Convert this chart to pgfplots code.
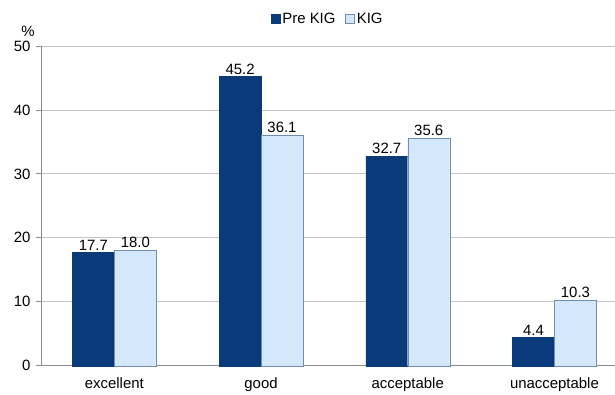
\documentclass[border=0pt]{standalone}
\usepackage{pgfplots}
\pgfplotsset{compat=1.18}
\usepackage{fontspec}
\setmainfont{Liberation Sans}

\definecolor{prekig}{HTML}{0B3A7A}
\definecolor{kig}{HTML}{D5E8FB}
\definecolor{kigedge}{HTML}{6F8DB0}
\definecolor{gridgray}{HTML}{C4C4C4}
\definecolor{axisgray}{HTML}{8C8C8C}

\newcommand{\chartfont}{\fontsize{15}{17}\selectfont}

\begin{document}
\begin{tikzpicture}
\begin{axis}[
  scale only axis,
  width=574bp, height=320bp,
  ybar=0pt, bar width=42bp,
  xmin=-0.5, xmax=3.41,
  ymin=0, ymax=50,
  ytick={0,10,20,30,40,50},
  xtick={0,1,2,3},
  xticklabels={excellent,good,acceptable,unacceptable},
  minor xtick={-0.5,0.5,1.5,2.5},
  axis x line*=bottom,
  axis y line*=left,
  axis line style={axisgray, line width=0.8pt},
  x axis line style={-}, y axis line style={-},
  ymajorgrids, major grid style={gridgray, line width=0.8pt},
  xtick style={draw=none},
  minor x tick style={axisgray, line width=0.8pt},
  ytick style={axisgray, line width=0.8pt},
  tick align=outside,
  major tick length=5bp, minor tick length=5bp,
  /pgf/number format/assume math mode=true,
  font=\chartfont,
  ticklabel style={font=\chartfont},
  xticklabel style={yshift=-3bp},
  yticklabel style={xshift=-2bp},
  ylabel={\%},
  ylabel style={rotate=-90, at={(rel axis cs:0,1)}, anchor=south, xshift=-13bp, yshift=6bp},
  nodes near coords,
  nodes near coords style={font=\chartfont, yshift=-1bp,
    /pgf/number format/fixed, /pgf/number format/fixed zerofill,
    /pgf/number format/precision=1, /pgf/number format/assume math mode=true},
  legend style={at={(0.5,1)}, anchor=south, yshift=17bp, draw=none, fill=none,
    legend columns=-1, font=\chartfont,
    /tikz/every even column/.append style={column sep=8bp}},
  legend image code/.code={\draw[#1] (0bp,-4.5bp) rectangle (9bp,4.5bp);},
  clip=false,
]
\addplot[fill=prekig, draw=prekig] coordinates {(0,17.7) (1,45.2) (2,32.7) (3,4.4)};
\addplot[fill=kig, draw=kigedge] coordinates {(0,18.0) (1,36.1) (2,35.6) (3,10.3)};
\legend{Pre KIG, KIG}
\coordinate (ll) at (rel axis cs:0,0);
\coordinate (ur) at (rel axis cs:1,1);
\end{axis}
\path[use as bounding box] ([xshift=-41bp,yshift=-29bp]ll) rectangle ([yshift=46bp]ur);
\end{tikzpicture}
\end{document}
